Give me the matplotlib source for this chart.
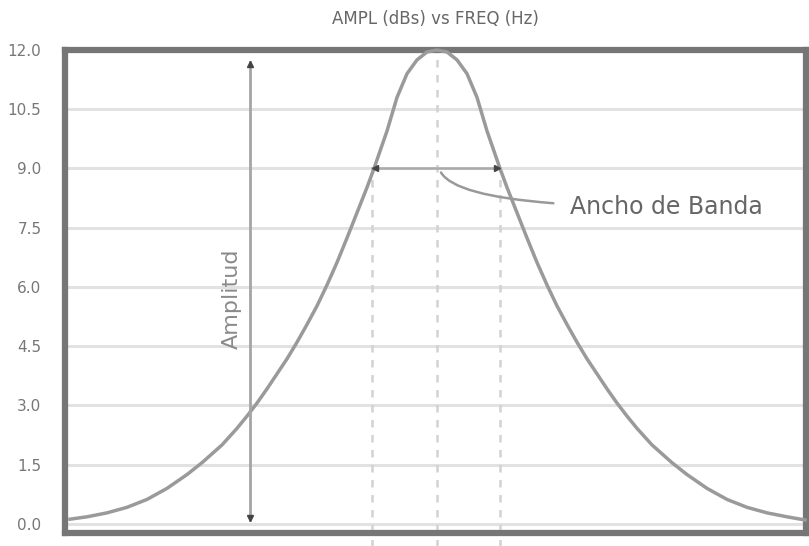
import numpy as np
import matplotlib.pyplot as plt

# frequency (arbitrary units) and amplitude
freq = [5, 22, 42, 62, 82, 102, 122, 137, 157, 172, 182, 192, 202, 212, 222,
        232, 242, 252, 262, 272, 282, 292, 302, 309, 322, 332, 342, 352, 362,
        372,
        382, 392, 402, 412, 422, 435, 442, 452, 462, 472, 482, 492, 502, 512,
        522, 532, 542, 552, 562, 572, 587, 607, 622, 642, 662, 682, 702, 722,
        740]
ampl = [0.12, 0.18, 0.28, 0.42, 0.62, 0.9, 1.25, 1.55, 2.0, 2.42, 2.73, 3.06,
        3.42, 3.8, 4.18, 4.6, 5.05, 5.52, 6.05, 6.62, 7.24, 7.88, 8.52, 9.0,
        9.95, 10.8, 11.4, 11.75, 11.95,
        12.0,
        11.95, 11.75, 11.4, 10.8, 9.95, 9.0, 8.52, 7.88, 7.24, 6.62, 6.05,
        5.52, 5.05, 4.6, 4.18, 3.8, 3.42, 3.06, 2.73, 2.42, 2.0, 1.55, 1.25,
        0.9, 0.62, 0.42, 0.28, 0.18, 0.1]

f1, f0, f2 = 307, 372, 435
f_amp = 185
half_level = 9.0
yticks = [0.0, 1.5, 3.0, 4.5, 6.0, 7.5, 9.0, 10.5, 12.0]

fig = plt.figure(figsize=(8.09, 5.46), dpi=100)
ax = fig.add_axes([65 / 809, 13 / 546, 741 / 809, 483 / 546])

ax.set_xlim(0, 741)
ax.set_ylim(-0.23, 12.0)

for y in yticks:
    ax.axhline(y, color='#e2e2e2', lw=2.2, zorder=0)

for f in (f1, f0, f2):
    top = 12.0 if f == f0 else half_level
    ax.plot([f, f], [-0.6, top], color='#d2d2d2', lw=1.8, ls=(0, (3, 3)),
            clip_on=False, zorder=1)

ax.plot(freq, ampl, color='#9a9a9a', lw=2.5, zorder=3, clip_on=False,
        solid_joinstyle='round')

# ancho de banda
ax.plot([f1, f2], [half_level, half_level], color='#aaaaaa', lw=1.8, zorder=3)
ax.plot([f1 + 3], [half_level], marker='<', ms=5, color='#444444', zorder=4)
ax.plot([f2 - 3], [half_level], marker='>', ms=5, color='#444444', zorder=4)

# amplitud
ax.plot([f_amp, f_amp], [0.1, 11.7], color='#a5a5a5', lw=2.0, zorder=3)
ax.plot([f_amp], [11.65], marker='^', ms=4.5, color='#444444', zorder=4)
ax.plot([f_amp], [0.15], marker='v', ms=4.5, color='#444444', zorder=4)
ax.text(f_amp - 18, 5.7, 'Amplitud', rotation=90, ha='center', va='center',
        fontsize=16, color='#8a8a8a')

ax.annotate('Ancho de Banda', xy=(376, 8.9), xytext=(505, 8.03),
            fontsize=17, color='#666666', va='center', ha='left',
            arrowprops=dict(arrowstyle='-', color='#999999', lw=1.8,
                            shrinkA=10, shrinkB=0,
                            connectionstyle='angle3,angleA=0,angleB=-60'))

ax.set_xticks([])
ax.set_yticks(yticks)
ax.set_yticklabels(['%.1f' % y for y in yticks], fontsize=11, color='#777777')
ax.tick_params(axis='y', length=0, pad=17)

for s in ax.spines.values():
    s.set_color('#767676')
    s.set_linewidth(4.5)

ax.set_title('AMPL (dBs) vs FREQ (Hz)', fontsize=12, color='#666666', pad=19)

fig.savefig('out.png', dpi=100)
